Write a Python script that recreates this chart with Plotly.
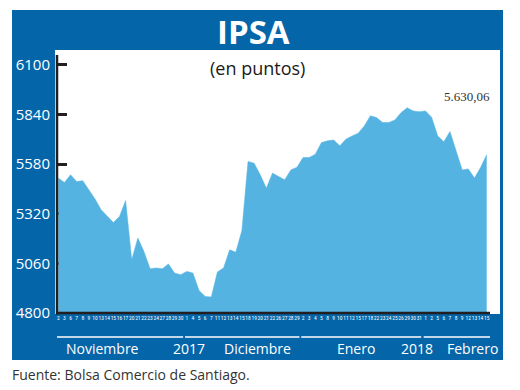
import plotly.graph_objects as go

# ---- data ----
months = (["Nov"] * 21) + (["Dic"] * 19) + (["Ene"] * 20) + (["Feb"] * 11)
day_labels = [
    "2", "3", "6", "7", "8", "9", "10", "13", "14", "15", "16", "17", "20", "21", "22", "23", "24", "27", "28", "29", "30",
    "1", "4", "5", "6", "7", "11", "12", "13", "14", "15", "18", "19", "20", "21", "22", "26", "27", "28", "29",
    "2", "3", "4", "5", "8", "9", "10", "11", "12", "15", "17", "18", "22", "23", "24", "25", "26", "29", "30", "31",
    "1", "2", "5", "6", "7", "8", "9", "12", "13", "14", "15",
]
ipsa_values = [
    5507, 5484, 5524, 5489, 5493, 5445, 5398, 5341, 5309, 5274, 5306, 5389, 5079, 5193, 5122, 5032, 5036, 5032, 5057, 5009, 5001,
    5018, 5009, 4918, 4887, 4884, 5015, 5036, 5131, 5119, 5232, 5594, 5585, 5524, 5454, 5533, 5515, 5498, 5550, 5564,
    5615, 5615, 5632, 5693, 5702, 5707, 5676, 5711, 5728, 5742, 5780, 5833, 5824, 5798, 5798, 5812, 5850, 5876, 5859, 5855,
    5859, 5826, 5728, 5698, 5751, 5655, 5550, 5555, 5507, 5562, 5630.06,
]
y_ticks = [4800, 5060, 5320, 5580, 5840, 6100]
month_names = ["Noviembre", "Diciembre", "Enero", "Febrero"]
year_names = ["2017", "2018"]
last_label = "5.630,06"
source_text = "Fuente: Bolsa Comercio de Santiago."

# ---- style ----
W, H = 520, 390
ML, MR, MT, MB = 57, 30, 55, 77
PW, PH = W - ML - MR, H - MT - MB
BLUE = "#0565a9"
AREA = "#55b3e2"
DARK = "#231f20"
FONT = "Open Sans, Noto Sans, sans-serif"
NARROW = "Liberation Sans Narrow, Roboto Condensed, DejaVu Sans Condensed, Arial Narrow, Liberation Sans, sans-serif"


def px(x):
    return (x - ML) / PW


def py(y):
    return (H - MB - y) / PH


idx = list(range(len(ipsa_values)))

fig = go.Figure()
fig.add_trace(go.Scatter(
    x=idx, y=ipsa_values, mode="lines", fill="tozeroy",
    fillcolor=AREA, line=dict(color=AREA, width=0.5), hoverinfo="skip",
))

shapes = [
    dict(type="rect", xref="paper", yref="paper", x0=px(12), x1=px(503), y0=py(360), y1=py(10),
         fillcolor=BLUE, line=dict(width=0), layer="below"),
    dict(type="rect", xref="paper", yref="paper", x0=px(55), x1=px(500), y0=py(314), y1=py(50),
         fillcolor="white", line=dict(width=0), layer="below"),
    dict(type="line", xref="paper", yref="paper", x0=0, x1=0, y0=py(314.5), y1=1,
         line=dict(color=DARK, width=2.5), layer="above"),
    dict(type="line", xref="paper", yref="paper", x0=px(56), x1=px(490), y0=0, y1=0,
         line=dict(color=DARK, width=2.5), layer="above"),
]

# month underline spans computed from the data's month groups
order = ["Nov", "Dic", "Ene", "Feb"]
span_pad = {"Nov": (0.45, 0.4), "Dic": (0.3, 0.4), "Ene": (0.3, 0.3), "Feb": (0.3, 1.6)}
for m in order:
    ii = [i for i, mm in enumerate(months) if mm == m]
    a, b = span_pad[m]
    shapes.append(dict(type="line", xref="x", yref="paper", x0=ii[0] - a, x1=ii[-1] + b,
                       y0=py(337), y1=py(337), line=dict(color="white", width=1.6), layer="above"))

annotations = [
    dict(text="<b>IPSA</b>", xref="paper", yref="paper", x=px(253), y=py(31), showarrow=False,
         font=dict(family=FONT, size=33, color="white"), xanchor="center", yanchor="middle"),
    dict(text="(en puntos)", xref="paper", yref="paper", x=px(257), y=py(68), showarrow=False,
         font=dict(family=FONT, size=18, color="#1a1a1a"), xanchor="center", yanchor="middle"),
    dict(text=last_label, xref="paper", yref="paper", x=px(492), y=py(97), showarrow=False,
         font=dict(family="Liberation Serif, DejaVu Serif, serif", size=13, color="#333333"),
         xanchor="right", yanchor="middle"),
    dict(text=source_text, xref="paper", yref="paper", x=px(10), y=py(374), showarrow=False,
         font=dict(family=FONT, size=14, color="#333333"), xanchor="left", yanchor="middle"),
]
month_label_x = [7.3, 32.6, 48.6, 67.6]
for name, xv in zip(month_names, month_label_x):
    annotations.append(dict(text=name, xref="x", yref="paper", x=xv, y=py(348), showarrow=False,
                            font=dict(family=FONT, size=14, color="white"), xanchor="center", yanchor="middle"))
year_label_x = [21.4, 58.6]
for name, xv in zip(year_names, year_label_x):
    annotations.append(dict(text=name, xref="x", yref="paper", x=xv, y=py(348), showarrow=False,
                            font=dict(family=FONT, size=14, color="white"), xanchor="center", yanchor="middle"))

fig.update_layout(
    width=W, height=H, margin=dict(l=ML, r=MR, t=MT, b=MB),
    paper_bgcolor="white", plot_bgcolor="rgba(0,0,0,0)",
    showlegend=False, shapes=shapes, annotations=annotations,
    xaxis=dict(range=[-0.21, 70.54], tickmode="array", tickvals=idx, ticktext=day_labels,
               tickangle=0, tickfont=dict(family=NARROW, size=5.5, color="white"),
               showgrid=False, zeroline=False, showline=False, ticks="", layer="below traces",
               fixedrange=True),
    yaxis=dict(range=[4800, 6152], tickmode="array", tickvals=y_ticks,
               ticktext=[str(v) for v in y_ticks], ticks="inside", ticklen=10, tickwidth=2.5,
               tickcolor=DARK, tickfont=dict(family=FONT, size=15, color="white"),
               showgrid=False, zeroline=False, showline=False, layer="below traces",
               ticklabelstandoff=6, fixedrange=True),
)

fig.write_html("out.html", config={"displayModeBar": False},
               post_script="document.body.style.margin='0';")
